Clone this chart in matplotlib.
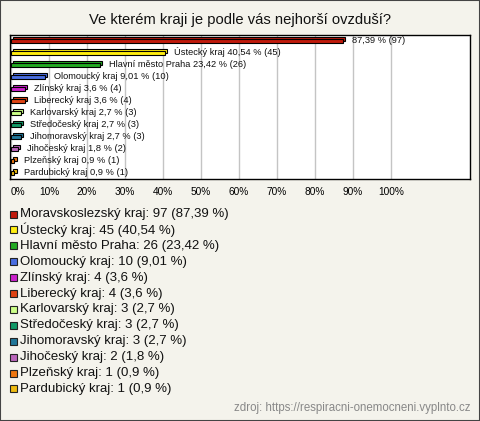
import matplotlib.pyplot as plt
from matplotlib.patches import Rectangle

plt.rcParams['font.family'] = ['Liberation Sans', 'DejaVu Sans']

kraje = ['Moravskoslezský kraj', 'Ústecký kraj', 'Hlavní město Praha', 'Olomoucký kraj',
         'Zlínský kraj', 'Liberecký kraj', 'Karlovarský kraj', 'Středočeský kraj',
         'Jihomoravský kraj', 'Jihočeský kraj', 'Plzeňský kraj', 'Pardubický kraj']
pocty = [97, 45, 26, 10, 4, 4, 3, 3, 3, 2, 1, 1]
procenta = [87.39, 40.54, 23.42, 9.01, 3.6, 3.6, 2.7, 2.7, 2.7, 1.8, 0.9, 0.9]
procenta_txt = ['87,39', '40,54', '23,42', '9,01', '3,6', '3,6', '2,7', '2,7', '2,7', '1,8', '0,9', '0,9']
barvy = ['#c01a0c', '#ffee11', '#22aa22', '#4a6ee0', '#cc22cc', '#e04414',
         '#ccff88', '#119966', '#227799', '#bb66bb', '#ee7711', '#eebb11']
ticks = list(range(0, 101, 10))

W, H = 480, 421
bg = '#f4f3ec'
fig = plt.figure(figsize=(W / 100, H / 100), dpi=100, facecolor=bg)
fig.patches.append(Rectangle((0, 0), 1, 1, transform=fig.transFigure,
                             facecolor='none', edgecolor='#444444', lw=1.5))

fig.text(240 / W, 1 - 20 / H, 'Ve kterém kraji je podle vás nejhorší ovzduší?',
         ha='center', va='center', fontsize=10.6, color='#111111')

# plot area
ax = fig.add_axes([10 / W, 1 - 179 / H, 460 / W, 144 / H])
ax.set_facecolor('white')
ax.set_xlim(-1 / 3.8, 459 / 3.8)
ax.set_ylim(len(kraje) - 0.5, -0.5)
for s in ax.spines.values():
    s.set_color('black')
    s.set_linewidth(1)
ax.set_xticks(ticks)
ax.set_xticklabels([f'{t}%' for t in ticks], fontsize=7.3)
ax.get_xticklabels()[0].set_horizontalalignment('left')
ax.tick_params(axis='x', length=0, pad=5.5)
ax.set_yticks([])
ax.grid(axis='x', color='#c4c4c4', lw=1)
ax.set_axisbelow(True)

ys = list(range(len(kraje)))
# back face (3D look)
ax.barh([y - 0.15 for y in ys], procenta, left=0.55, height=0.38, color=barvy,
        edgecolor='black', linewidth=0.8, zorder=2)
ax.barh(ys, procenta, height=0.38, color=barvy, edgecolor='black', linewidth=0.8, zorder=3)

for i, (k, n, p, pt) in enumerate(zip(kraje, pocty, procenta, procenta_txt)):
    name = '' if i == 0 else k
    ax.text(p + 2.4, i - 0.05, f'{name} {pt} % ({n})'.strip(), fontsize=6.7,
            va='center', ha='left', color='#111111', zorder=4)

# legend
for i, (k, n, pt, c) in enumerate(zip(kraje, pocty, procenta_txt, barvy)):
    yc = 214 + i * 15.9
    fig.patches.append(Rectangle((9.5 / W, 1 - (yc + 3.5) / H), 7 / W, 7 / H,
                                 transform=fig.transFigure, facecolor=c,
                                 edgecolor='#222222', lw=0.8))
    fig.text(20.5 / W, 1 - yc / H, f'{k}: {n} ({pt} %)', fontsize=9.55,
             va='center', ha='left', color='#111111')

fig.text(470 / W, 1 - 408 / H, 'zdroj: https://respiracni-onemocneni.vyplnto.cz',
         fontsize=8.3, ha='right', va='center', color='#888888')

fig.savefig('out.png', dpi=100, facecolor=bg)
